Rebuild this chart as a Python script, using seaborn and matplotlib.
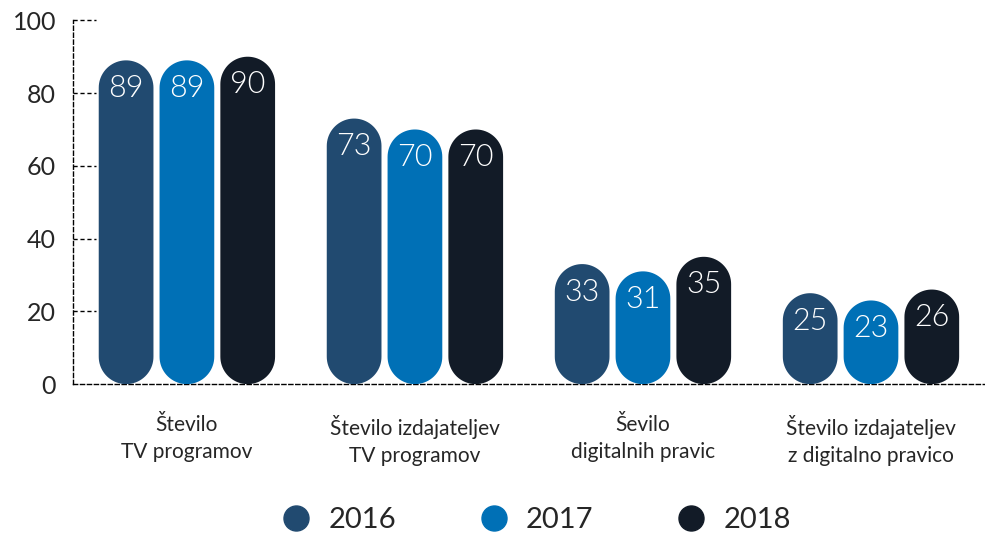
import numpy as np
import pandas as pd
import matplotlib.pyplot as plt
import seaborn as sns
from matplotlib.patches import Polygon
from matplotlib.lines import Line2D

# ==============================
# Podatki
# ==============================
kategorije = ["Število\nTV programov", "Število izdajateljev\nTV programov",
              "Ševilo\ndigitalnih pravic", "Število izdajateljev\nz digitalno pravico"]
leta = ["2016", "2017", "2018"]
v2016 = [89, 73, 33, 25]
v2017 = [89, 70, 31, 23]
v2018 = [90, 70, 35, 26]
barve = ["#214a70", "#0070b6", "#121b27"]

df = pd.DataFrame({
    "kategorija": kategorije * 3,
    "leto": [l for l in leta for _ in kategorije],
    "vrednost": v2016 + v2017 + v2018,
})

# ==============================
# Graf
# ==============================
sns.set_style("white")
plt.rcParams["font.family"] = ["Lato", "DejaVu Sans"]

fig = plt.figure(figsize=(9.85, 5.35), dpi=100)
ax = fig.add_axes([0.074, 0.282, 0.926, 0.680])

sns.barplot(data=df, x="kategorija", y="vrednost", hue="leto", palette=barve,
            width=0.8, gap=0.1, saturation=1, ax=ax, legend=False)

ax.set_xlim(-0.5, 3.5)
ax.set_ylim(0, 100)

# razmerje med enotama y in x (za okrogle konce stolpcev)
fig.canvas.draw()
bb = ax.get_window_extent()
asp = (100 / bb.height) / (4 / bb.width)

t = np.linspace(0, np.pi, 40)
for p in list(ax.patches):
    x, w, h = p.get_x(), p.get_width(), p.get_height()
    if h <= 0:
        continue
    r = w / 2
    ry = r * asp
    cx = x + r
    zg_x = cx + r * np.cos(t)
    zg_y = h - ry + ry * np.sin(t)
    sp_x = cx - r * np.cos(t)
    sp_y = ry - ry * np.sin(t)
    tocke = np.column_stack([np.r_[zg_x, sp_x], np.r_[zg_y, sp_y]])
    ax.add_patch(Polygon(tocke, closed=True, facecolor=p.get_facecolor(),
                         edgecolor="none", zorder=3))
    ax.text(cx, h - ry - 0.2, f"{h:.0f}", ha="center", va="center",
            color="white", fontsize=22, fontweight=300, zorder=4)
    p.set_visible(False)

# osi
for s in ["top", "right"]:
    ax.spines[s].set_visible(False)
for s in ["left", "bottom"]:
    ax.spines[s].set_linestyle((0, (3, 2)))
    ax.spines[s].set_linewidth(1)
    ax.spines[s].set_color("black")

ax.set_yticks(range(0, 101, 20))
ax.tick_params(axis="y", length=0, pad=12, labelsize=18)
for y in range(20, 101, 20):
    ax.plot([0, 0.025], [y, y], transform=ax.get_yaxis_transform(),
            color="black", lw=1, ls=(0, (3, 2)), clip_on=False)

ax.tick_params(axis="x", length=0, pad=22, labelsize=15)
ax.set_xticks([0.5, 1.5, 2.5], minor=True)
ax.tick_params(axis="x", which="minor", direction="in", length=4, width=1, color="black")
ax.set_xlabel("")
ax.set_ylabel("")
for lab in ax.get_xticklabels():
    lab.set_linespacing(1.45)

# legenda
handles = [Line2D([], [], marker="o", ls="none", markersize=18, color=c) for c in barve]
fig.legend(handles, leta, loc="center", bbox_to_anchor=(0.537, 0.028), ncol=3,
           frameon=False, fontsize=21, handletextpad=0.1, columnspacing=2.35)

plt.savefig("out.png", dpi=100)
